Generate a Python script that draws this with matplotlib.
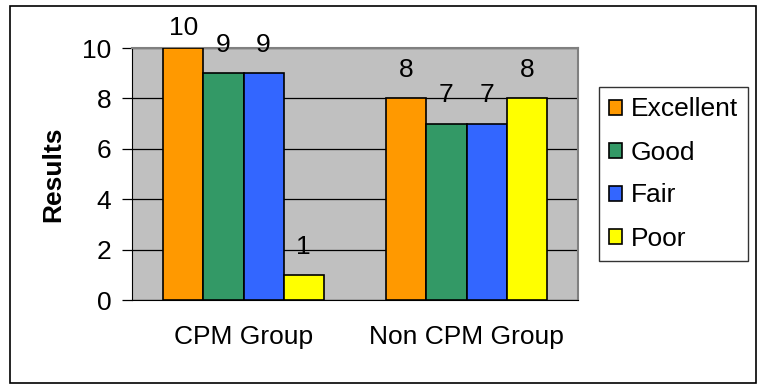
import numpy as np
import matplotlib.pyplot as plt
from matplotlib.patches import Rectangle

plt.rcParams['font.family'] = ['Liberation Sans', 'DejaVu Sans']

groups = ["CPM Group", "Non CPM Group"]
ratings = ["Excellent", "Good", "Fair", "Poor"]
excellent = [10, 8]
good = [9, 7]
fair = [9, 7]
poor = [1, 8]
colors = ["#FF9900", "#339966", "#3366FF", "#FFFF00"]

fs = 19
fig = plt.figure(figsize=(7.61, 3.85), dpi=100)
ax = fig.add_axes([132 / 761, 1 - 300 / 385, 446 / 761, 252 / 385])
ax.set_facecolor("#C0C0C0")

x = np.arange(len(groups))
w = 0.18
series = [excellent, good, fair, poor]
for i, vals in enumerate(series):
    pos = x + (i - 1.5) * w
    bars = ax.bar(pos, vals, w, color=colors[i], edgecolor="black", linewidth=1.2,
                  label=ratings[i], zorder=3)
    for b, v in zip(bars, vals):
        # labels sit above the bar, pulled down when near the top of the axis
        ty = min(v + 0.84, 10.5)
        ax.text(b.get_x() + b.get_width() / 2, ty, str(v), ha="center", va="baseline",
                fontsize=fs, zorder=4, clip_on=False)

ax.set_xlim(-0.5, 1.5)
ax.set_ylim(0, 10)
ax.set_yticks([0, 2, 4, 6, 8, 10])
ax.yaxis.grid(True, color="black", linewidth=0.9, zorder=0)
ax.set_xticks(x)
ax.set_xticklabels(groups, fontsize=fs)
ax.tick_params(axis="x", length=0, pad=18)
ax.tick_params(axis="y", labelsize=fs, length=7, direction="out", pad=8, width=0.9)
ax.set_ylabel("Results", fontsize=fs, fontweight="bold", labelpad=12)

for s in ["top", "right"]:
    ax.spines[s].set_color("#808080")
    ax.spines[s].set_linewidth(1.5)
ax.spines["left"].set_color("black")
ax.spines["bottom"].set_color("black")

leg = ax.legend(loc="center left", bbox_to_anchor=(599 / 761, 1 - 174 / 385),
                bbox_transform=fig.transFigure, fontsize=fs, frameon=True,
                fancybox=False, edgecolor="black", handlelength=0.5, handleheight=0.5,
                handletextpad=0.32, labelspacing=0.72, borderpad=0.38, borderaxespad=0)
leg.get_frame().set_linewidth(1)

fig.patches.append(Rectangle((10 / 761, 2 / 385), 746 / 761, 377 / 385, transform=fig.transFigure,
                             fill=False, edgecolor="black", linewidth=1.2))

fig.savefig("out.png", dpi=100)
